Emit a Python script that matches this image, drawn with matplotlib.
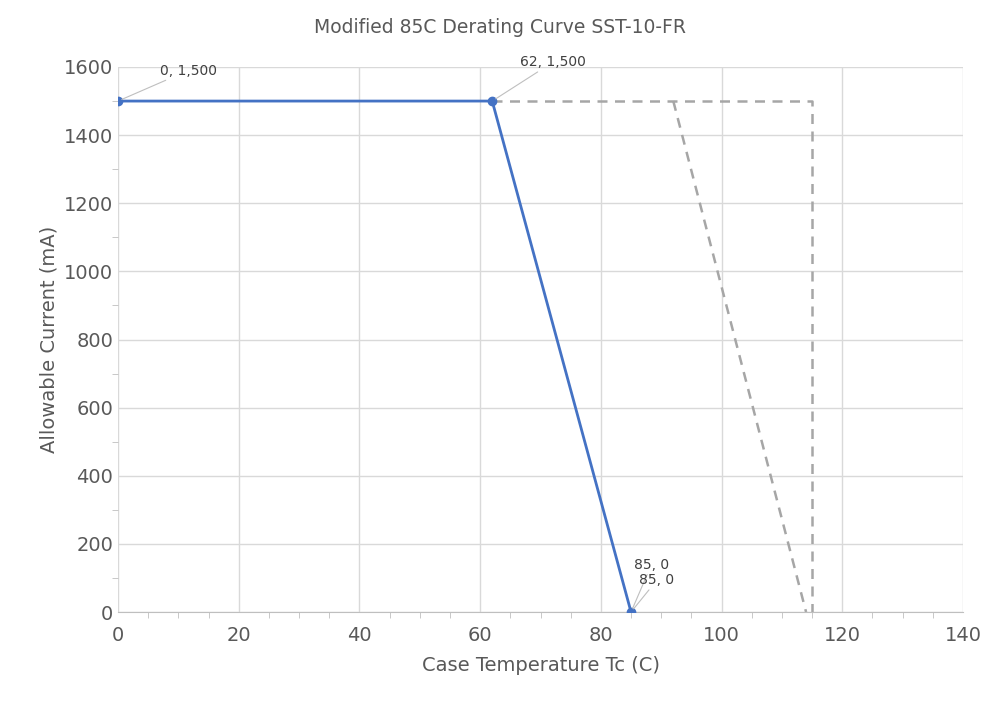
import matplotlib.pyplot as plt
from matplotlib.ticker import MultipleLocator

# derating curve points
curve_x = [0, 62, 85]
curve_y = [1500, 1500, 0]

# gray dashed reference outlines
ref_box_x = [62, 115, 115]
ref_box_y = [1500, 1500, 0]
ref_slope_x = [92, 114]
ref_slope_y = [1500, 0]

labels = ["0, 1,500", "62, 1,500", "85, 0", "85, 0"]

fig = plt.figure(figsize=(10, 7.03), dpi=100)
ax = fig.add_axes([0.118, 0.1294, 0.845, 0.7753])

ax.plot(ref_box_x, ref_box_y, color="#a6a6a6", lw=1.8, ls=(0, (4, 3)))
ax.plot(ref_slope_x, ref_slope_y, color="#a6a6a6", lw=1.8, ls=(0, (4, 3)))
ax.plot(curve_x, curve_y, color="#4472c4", lw=2, marker="o", ms=6, zorder=3)

# data labels with leader lines
offsets = [(30, 22), (20, 28), (2, 34), (6, 23)]
pts = [(0, 1500), (62, 1500), (85, 0), (85, 0)]
for (px, py), txt, (dx, dy) in zip(pts, labels, offsets):
    ax.annotate(txt, xy=(px, py), xytext=(dx, dy), textcoords="offset points",
                fontsize=10, color="#404040", ha="left", va="center",
                arrowprops=dict(arrowstyle="-", color="#bfbfbf", lw=0.8,
                                shrinkA=0, shrinkB=3))

ax.set_xlim(0, 140)
ax.set_ylim(0, 1600)
ax.xaxis.set_major_locator(MultipleLocator(20))
ax.xaxis.set_minor_locator(MultipleLocator(5))
ax.yaxis.set_major_locator(MultipleLocator(200))
ax.yaxis.set_minor_locator(MultipleLocator(100))
ax.grid(True, which="major", color="#d9d9d9", lw=1)
ax.set_axisbelow(True)
for s in ["top", "right"]:
    ax.spines[s].set_visible(False)
ax.spines["left"].set_visible(False)
ax.spines["bottom"].set_color("#bfbfbf")
ax.tick_params(axis="both", which="both", colors="#bfbfbf", labelcolor="#595959", labelsize=14)
ax.tick_params(axis="y", which="major", length=0)
ax.tick_params(axis="y", which="minor", length=4, left=True)
ax.tick_params(axis="x", which="major", length=0, pad=10)
ax.tick_params(axis="x", which="minor", length=4)

ax.set_xlabel("Case Temperature Tc (C)", fontsize=14, color="#595959", labelpad=8)
ax.set_ylabel("Allowable Current (mA)", fontsize=14, color="#595959")
fig.suptitle("Modified 85C Derating Curve SST-10-FR", fontsize=13.5, color="#595959", y=0.975)

fig.savefig("out.png", dpi=100)
